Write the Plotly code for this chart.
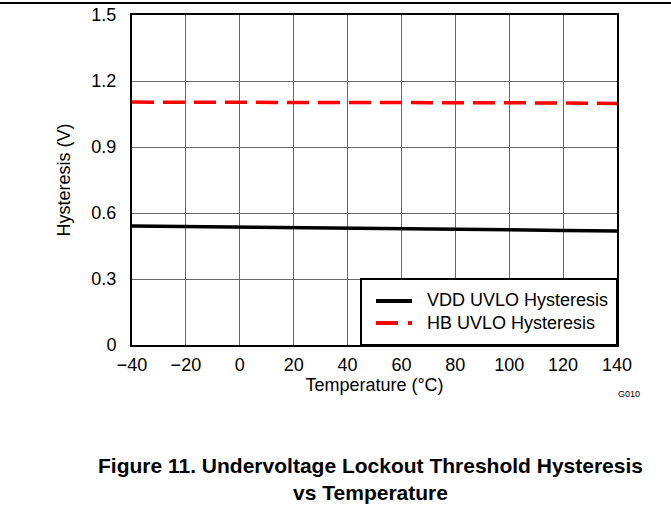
import plotly.graph_objects as go

temperature = [-40, -20, 0, 20, 40, 60, 80, 100, 120, 140]
vdd_hyst = [0.541, 0.539, 0.537, 0.535, 0.533, 0.530, 0.527, 0.524, 0.521, 0.518]
hb_hyst = [1.104, 1.104, 1.104, 1.103, 1.103, 1.103, 1.102, 1.101, 1.100, 1.098]
series_names = ["VDD UVLO Hysteresis", "HB UVLO Hysteresis"]
x_ticks = [-40, -20, 0, 20, 40, 60, 80, 100, 120, 140]
x_tick_labels = ["\u221240", "\u221220", "0", "20", "40", "60", "80", "100", "120", "140"]
y_ticks = [0, 0.3, 0.6, 0.9, 1.2, 1.5]
y_tick_labels = ["0", "0.3", "0.6", "0.9", "1.2", "1.5"]

FONT = "Liberation Sans, Arial, sans-serif"
W, H = 671, 510
L, R, T, B = 132, 54, 15, 165
pw, ph = W - L - R, H - T - B


def px_x(px):
    return (px - L) / pw


def px_y(py):
    return (H - B - py) / ph


fig = go.Figure()
fig.add_trace(go.Scatter(x=temperature, y=vdd_hyst, mode="lines", name=series_names[0],
                         line=dict(color="black", width=3.5), showlegend=False))
fig.add_trace(go.Scatter(x=temperature, y=hb_hyst, mode="lines", name=series_names[1],
                         line=dict(color="#ff0000", width=3.5, dash="22px,9px"), showlegend=False))

fig.update_layout(
    width=W, height=H,
    margin=dict(l=L, r=R, t=T, b=B, autoexpand=False),
    paper_bgcolor="white", plot_bgcolor="white",
    font=dict(family=FONT, size=18, color="black"),
    showlegend=False,
    xaxis=dict(range=[-40, 140], tickmode="array", tickvals=x_ticks, ticktext=x_tick_labels,
               showgrid=True, gridcolor="#6a6a6a", gridwidth=1, zeroline=False,
               showline=True, linecolor="black", linewidth=2, mirror=True,
               ticks="", ticklen=0, ticklabelstandoff=2, tickfont=dict(size=18),
               automargin=False,
               title=dict(text="Temperature (\u00b0C)", font=dict(size=18), standoff=2)),
    yaxis=dict(range=[0, 1.5], tickmode="array", tickvals=y_ticks, ticktext=y_tick_labels,
               showgrid=True, gridcolor="#6a6a6a", gridwidth=1, zeroline=False,
               showline=True, linecolor="black", linewidth=2, mirror=True,
               ticks="", ticklen=0, ticklabelstandoff=10, tickfont=dict(size=18),
               automargin=False,
               title=dict(text="Hysteresis (V)", font=dict(size=18), standoff=16)),
)

# top rule across the page
fig.add_shape(type="line", xref="paper", yref="paper",
              x0=px_x(0), x1=px_x(W), y0=px_y(3), y1=px_y(3),
              line=dict(color="black", width=2), layer="above")

# legend box
fig.add_shape(type="rect", xref="paper", yref="paper",
              x0=px_x(361), x1=1, y0=0, y1=px_y(279),
              line=dict(color="black", width=2), fillcolor="white", layer="above")
fig.add_shape(type="line", xref="paper", yref="paper",
              x0=px_x(376), x1=px_x(412), y0=px_y(301), y1=px_y(301),
              line=dict(color="black", width=4))
fig.add_shape(type="line", xref="paper", yref="paper",
              x0=px_x(376), x1=px_x(412), y0=px_y(323), y1=px_y(323),
              line=dict(color="#ff0000", width=4, dash="22px,10px,4px,40px"))
fig.add_annotation(text=series_names[0], xref="paper", yref="paper",
                   x=px_x(425), y=px_y(300), showarrow=False,
                   xanchor="left", yanchor="middle", font=dict(size=18, family=FONT))
fig.add_annotation(text=series_names[1], xref="paper", yref="paper",
                   x=px_x(425), y=px_y(323), showarrow=False,
                   xanchor="left", yanchor="middle", font=dict(size=18, family=FONT))

fig.add_annotation(text="G010", xref="paper", yref="paper",
                   x=px_x(629), y=px_y(394), showarrow=False,
                   font=dict(size=9, family=FONT), xanchor="center", yanchor="middle")

fig.add_annotation(text="<b>Figure 11. Undervoltage Lockout Threshold Hysteresis</b><br><b>vs Temperature</b>",
                   xref="paper", yref="paper",
                   x=px_x(370), y=px_y(479), showarrow=False,
                   font=dict(size=21, family=FONT), xanchor="center", yanchor="middle",
                   align="center")

fig.write_html("out.html", config={"displayModeBar": False},
               post_script="document.body.style.margin='0px';")
